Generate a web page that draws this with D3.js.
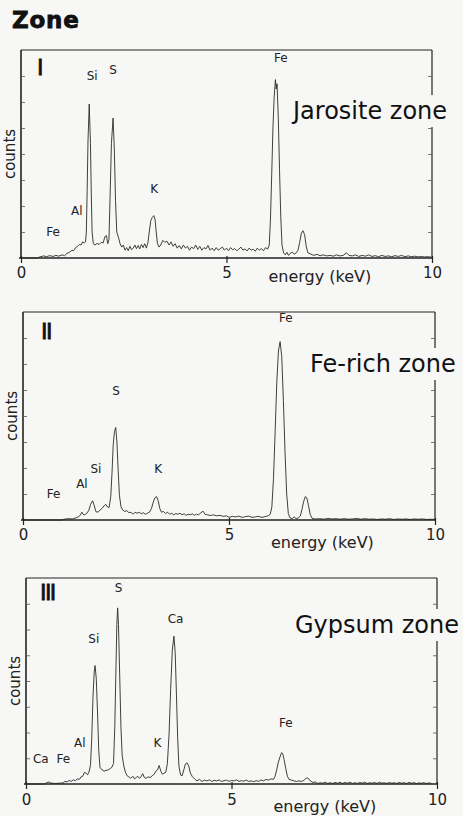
<!DOCTYPE html>
<html>
<head>
<meta charset="utf-8">
<script src="https://cdn.jsdelivr.net/npm/d3@7/dist/d3.min.js"></script>
<style>
body { margin: 0; background: #f7f7f5; }
svg { display: block; font-family: "DejaVu Sans", sans-serif; }
</style>
</head>
<body>
<svg id="chart" width="463" height="816"></svg>
<script>
// zone I - jarosite
var energyI = [0,0.40,0.45,0.55,0.62,0.70,0.78,0.85,0.92,1.00,1.06,1.12,1.18,1.24,1.28,1.33,1.38,1.42,1.46,1.50,1.54,1.57,1.59,1.61,1.63,1.66,1.69,1.71,1.73,1.76,1.80,1.85,1.90,1.95,2.00,2.04,2.08,2.11,2.14,2.17,2.20,2.24,2.27,2.30,2.33,2.37,2.41,2.45,2.49,2.53,2.57,2.61,2.65,2.69,2.73,2.77,2.81,2.85,2.89,2.93,2.97,3.01,3.05,3.09,3.12,3.16,3.19,3.23,3.26,3.29,3.32,3.36,3.40,3.45,3.50,3.55,3.60,3.65,3.70,3.75,3.80,3.85,3.90,3.95,4.00,4.05,4.10,4.15,4.20,4.25,4.30,4.35,4.40,4.45,4.50,4.55,4.60,4.65,4.70,4.75,4.80,4.85,4.90,4.95,5.00,5.05,5.10,5.15,5.20,5.25,5.30,5.35,5.40,5.45,5.50,5.55,5.60,5.65,5.70,5.75,5.80,5.85,5.90,5.95,6.00,6.04,6.07,6.10,6.13,6.16,6.19,6.21,6.23,6.26,6.29,6.32,6.35,6.39,6.43,6.47,6.51,6.55,6.60,6.65,6.70,6.74,6.78,6.82,6.86,6.90,6.94,6.98,7.05,7.12,7.20,7.28,7.36,7.44,7.52,7.60,7.68,7.76,7.84,7.92,7.98,8.06,8.14,8.22,8.30,8.38,8.46,8.54,8.62,8.70,8.78,8.86,8.94,9.02,9.10,9.18,9.26,9.34,9.42,9.50,9.58,9.66,9.74,9.82,9.90,9.98];
var countsI = [0,0,0.04,0.08,0.05,0.09,0.06,0.10,0.07,0.12,0.09,0.18,0.22,0.30,0.28,0.40,0.45,0.52,0.50,0.62,0.58,0.62,1.00,2.60,4.50,5.92,4.40,2.50,1.00,0.55,0.50,0.56,0.52,0.60,0.58,0.82,0.86,0.55,0.70,2.50,4.40,5.38,4.20,2.20,1.00,0.80,0.55,0.42,0.50,0.30,0.40,0.28,0.45,0.32,0.38,0.50,0.36,0.48,0.35,0.52,0.40,0.55,0.38,0.60,1.00,1.45,1.55,1.63,1.50,1.00,0.55,0.42,0.50,0.68,0.60,0.65,0.50,0.62,0.45,0.55,0.38,0.48,0.35,0.50,0.38,0.45,0.30,0.42,0.36,0.50,0.33,0.45,0.30,0.40,0.35,0.48,0.30,0.38,0.28,0.40,0.30,0.36,0.42,0.30,0.38,0.28,0.40,0.32,0.36,0.28,0.34,0.42,0.30,0.35,0.27,0.38,0.30,0.34,0.26,0.38,0.30,0.36,0.28,0.40,0.34,0.50,1.50,3.20,5.00,6.20,6.86,6.50,6.70,5.40,3.40,1.60,0.50,0.20,0.12,0.22,0.10,0.18,0.22,0.15,0.20,0.30,0.60,0.95,1.05,0.90,0.45,0.20,0.15,0.10,0.14,0.09,0.12,0.08,0.10,0.07,0.12,0.08,0.10,0.20,0.10,0.08,0.12,0.06,0.10,0.07,0.12,0.06,0.09,0.05,0.10,0.06,0.08,0.05,0.09,0.06,0.10,0.05,0.08,0.05,0.07,0.04,0.06,0.04,0.05,0.03];
var elementsI = ["Fe", "Al", "Si", "S", "K", "Fe"];
var labelEnergyI = [0.78, 1.36, 1.73, 2.24, 3.24, 6.32];
var labelCountsI = [0.85, 1.65, 6.85, 7.08, 2.5, 7.54];

// zone II - Fe-rich
var energyII = [0,0.95,1.00,1.10,1.20,1.28,1.34,1.39,1.43,1.46,1.50,1.55,1.60,1.64,1.69,1.73,1.77,1.82,1.87,1.92,1.97,2.01,2.05,2.09,2.13,2.16,2.19,2.22,2.25,2.28,2.31,2.34,2.38,2.42,2.47,2.52,2.57,2.62,2.67,2.72,2.77,2.82,2.87,2.92,2.97,3.02,3.07,3.12,3.16,3.20,3.24,3.28,3.32,3.36,3.41,3.46,3.51,3.56,3.61,3.66,3.71,3.76,3.81,3.86,3.91,3.96,4.01,4.06,4.11,4.16,4.21,4.26,4.32,4.37,4.42,4.48,4.55,4.62,4.70,4.78,4.86,4.94,5.00,5.08,5.16,5.24,5.32,5.40,5.48,5.56,5.64,5.72,5.80,5.88,5.95,6.00,6.04,6.08,6.12,6.16,6.20,6.24,6.28,6.32,6.36,6.40,6.44,6.48,6.54,6.58,6.63,6.68,6.73,6.77,6.81,6.85,6.89,6.93,6.97,7.02,7.10,7.20,7.30,7.40,7.50,7.60,7.70,7.80,7.90,8.00,8.10,8.20,8.30,8.40,8.50,8.60,8.70,8.80,8.90,9.00,9.10,9.20,9.30,9.40,9.50,9.60,9.70,9.80,9.90,10.0];
var countsII = [0,0,0.03,0.05,0.04,0.08,0.12,0.18,0.30,0.22,0.20,0.26,0.38,0.60,0.74,0.55,0.32,0.30,0.38,0.45,0.55,0.60,0.50,0.48,0.90,1.80,2.90,3.40,3.56,3.00,1.90,0.95,0.50,0.38,0.33,0.36,0.28,0.30,0.22,0.30,0.26,0.30,0.24,0.28,0.22,0.26,0.30,0.45,0.68,0.85,0.90,0.75,0.45,0.30,0.33,0.25,0.30,0.22,0.26,0.20,0.25,0.22,0.26,0.20,0.24,0.18,0.22,0.20,0.24,0.18,0.22,0.20,0.28,0.34,0.22,0.20,0.17,0.20,0.16,0.18,0.14,0.16,0.10,0.14,0.12,0.15,0.10,0.13,0.15,0.10,0.12,0.14,0.10,0.13,0.16,0.22,0.50,1.60,3.40,5.30,6.50,6.86,6.30,4.60,2.60,1.00,0.25,0.08,0.05,0.12,0.05,0.08,0.15,0.40,0.70,0.90,0.85,0.55,0.22,0.06,0.04,0.05,0.03,0.06,0.04,0.05,0.03,0.05,0.03,0.04,0.06,0.03,0.05,0.03,0.04,0.02,0.04,0.03,0.05,0.02,0.04,0.03,0.04,0.02,0.04,0.03,0.04,0.02,0.03,0.02];
var elementsII = ["Fe", "Al", "Si", "S", "K", "Fe"];
var labelEnergyII = [0.74, 1.43, 1.77, 2.26, 3.28, 6.38];
var labelCountsII = [0.85, 1.23, 1.82, 4.81, 1.82, 7.62];

// zone III - gypsum
var energyIII = [0,0.45,0.50,0.55,0.60,0.70,0.80,0.90,0.95,1.00,1.05,1.10,1.15,1.20,1.25,1.30,1.34,1.38,1.42,1.46,1.50,1.54,1.57,1.60,1.63,1.66,1.68,1.71,1.74,1.77,1.80,1.85,1.90,1.95,2.00,2.05,2.09,2.13,2.16,2.19,2.21,2.23,2.25,2.28,2.31,2.34,2.38,2.42,2.46,2.50,2.55,2.60,2.64,2.68,2.72,2.76,2.80,2.84,2.88,2.92,2.97,3.02,3.07,3.12,3.16,3.20,3.24,3.28,3.32,3.36,3.40,3.44,3.48,3.52,3.56,3.60,3.63,3.66,3.69,3.72,3.76,3.80,3.84,3.88,3.92,3.96,4.00,4.05,4.10,4.16,4.22,4.28,4.34,4.40,4.46,4.52,4.58,4.64,4.70,4.76,4.82,4.88,4.94,5.00,5.06,5.12,5.18,5.24,5.30,5.36,5.42,5.48,5.54,5.60,5.66,5.72,5.78,5.84,5.90,5.96,6.02,6.06,6.10,6.14,6.18,6.22,6.25,6.28,6.32,6.36,6.40,6.46,6.52,6.58,6.64,6.70,6.76,6.80,6.84,6.88,6.92,6.98,7.04,7.10,7.16,7.22,7.28,7.34,7.40,7.46,7.52,7.58,7.64,7.70,7.76,7.82,7.88,7.94,8.00,8.06,8.12,8.18,8.24,8.30,8.36,8.42,8.48,8.54,8.60,8.66,8.72,8.78,8.84,8.90,8.96,9.02,9.08,9.14,9.20,9.26,9.32,9.38,9.44,9.50,9.56,9.62,9.68,9.74,9.80,9.86,9.92,9.98];
var countsIII = [0,0,0.05,0.08,0.04,0.02,0.03,0.04,0.10,0.08,0.14,0.10,0.16,0.13,0.20,0.18,0.28,0.30,0.45,0.42,0.36,0.50,0.75,1.80,3.40,4.35,4.60,4.10,2.80,1.30,0.65,0.55,0.50,0.53,0.55,0.60,0.65,0.80,2.20,4.60,6.20,6.84,6.20,4.20,2.20,1.10,0.70,0.45,0.32,0.28,0.22,0.30,0.20,0.25,0.30,0.22,0.28,0.40,0.25,0.22,0.28,0.25,0.32,0.38,0.50,0.55,0.72,0.50,0.38,0.42,0.45,0.80,1.90,3.70,5.20,5.74,5.10,3.50,1.80,0.70,0.35,0.32,0.55,0.78,0.82,0.70,0.42,0.28,0.20,0.12,0.18,0.10,0.15,0.12,0.16,0.10,0.14,0.12,0.16,0.10,0.13,0.15,0.10,0.14,0.12,0.16,0.10,0.13,0.11,0.15,0.10,0.12,0.09,0.13,0.10,0.16,0.12,0.18,0.15,0.20,0.18,0.30,0.55,0.85,1.05,1.22,1.15,0.95,0.60,0.30,0.18,0.15,0.12,0.10,0.12,0.10,0.14,0.20,0.24,0.20,0.12,0.06,0.08,0.02,0.05,0.03,0.07,0.02,0.05,0.02,0.06,0.03,0.07,0.02,0.06,0.03,0.07,0.02,0.05,0.02,0.06,0.03,0.07,0.02,0.05,0.03,0.06,0.02,0.07,0.03,0.05,0.02,0.06,0.03,0.05,0.02,0.06,0.03,0.05,0.02,0.06,0.03,0.05,0.02,0.04,0.03,0.05,0.02,0.04,0.03];
var elementsIII = ["Ca", "Fe", "Al", "Si", "S", "K", "Ca", "Fe"];
var labelEnergyIII = [0.36, 0.91, 1.31, 1.65, 2.25, 3.20, 3.64, 6.32];
var labelCountsIII = [0.82, 0.82, 1.45, 5.48, 7.45, 1.45, 6.25, 2.23];

var energyTicks = [0, 5, 10];
var countTicks = [1, 2, 3, 4, 5, 6, 7];
var zoneNames = ["Jarosite zone", "Fe-rich zone", "Gypsum zone"];
var romans = ["I", "II", "III"];

var bg = "#f7f7f5";
var ink = "#222";

var svg = d3.select("#chart");
svg.append("rect").attr("width", 463).attr("height", 816).attr("fill", bg);

svg.append("text")
	.attr("x", 12).attr("y", 28)
	.attr("font-size", 23).attr("font-weight", 900)
	.attr("letter-spacing", 0.8)
	.attr("stroke", "#111").attr("stroke-width", 0.8)
	.attr("fill", "#111")
	.text("Zone");

// frame boxes
var panels = [
	{left: 21, right: 432, top: 50, bottom: 258, energy: energyI, counts: countsI,
	 el: elementsI, le: labelEnergyI, lc: labelCountsI,
	 zoneX: 293, zoneY: 119, romanX: 37, romanY: 75, tickDy: 20, axisDy: 24},
	{left: 23, right: 435, top: 312, bottom: 520, energy: energyII, counts: countsII,
	 el: elementsII, le: labelEnergyII, lc: labelCountsII,
	 zoneX: 310, zoneY: 372, romanX: 41, romanY: 339, tickDy: 20, axisDy: 28},
	{left: 26, right: 437, top: 578, bottom: 784, energy: energyIII, counts: countsIII,
	 el: elementsIII, le: labelEnergyIII, lc: labelCountsIII,
	 zoneX: 295, zoneY: 633, romanX: 40, romanY: 600, tickDy: 21, axisDy: 28}
];

function drawPanel(p, i) {
	var x = d3.scaleLinear().domain([0, 10]).range([p.left, p.right]);
	var y = d3.scaleLinear().domain([0, 8]).range([p.bottom, p.top]);
	var g = svg.append("g");

	// frame: thin top/right, heavier left/bottom
	g.append("line").attr("x1", p.left).attr("x2", p.right).attr("y1", p.top).attr("y2", p.top)
		.attr("stroke", ink).attr("stroke-width", 1);
	g.append("line").attr("x1", p.right).attr("x2", p.right).attr("y1", p.top).attr("y2", p.bottom)
		.attr("stroke", ink).attr("stroke-width", 1.2);
	g.append("line").attr("x1", p.left).attr("x2", p.left).attr("y1", p.top).attr("y2", p.bottom)
		.attr("stroke", ink).attr("stroke-width", 1.6);

	var leftAxis = g.append("g").attr("transform", "translate(" + p.left + ",0)")
		.call(d3.axisRight(y).tickValues(countTicks).tickSize(4).tickFormat(""));
	var rightAxis = g.append("g").attr("transform", "translate(" + p.right + ",0)")
		.call(d3.axisLeft(y).tickValues(countTicks).tickSize(4).tickFormat(""));
	[leftAxis, rightAxis].forEach(function(a) {
		a.select(".domain").remove();
		a.selectAll(".tick line").attr("stroke", "#555").attr("stroke-width", 0.8);
	});

	var line = d3.line().x(function(d) { return x(d[0]); }).y(function(d) { return y(d[1]); });
	g.append("path")
		.datum(d3.zip(p.energy, p.counts))
		.attr("d", line)
		.attr("fill", "none")
		.attr("stroke", "#2a2a2a")
		.attr("stroke-width", 0.9)
		.attr("stroke-linejoin", "round");

	var bottomAxis = g.append("g").attr("transform", "translate(0," + p.bottom + ")")
		.call(d3.axisBottom(x).tickValues(energyTicks).tickSize(4).tickPadding(p.tickDy - 15));
	bottomAxis.select(".domain").attr("stroke", ink).attr("stroke-width", 1.6).attr("d",
		"M" + (p.left - 2) + ",0H" + p.right);
	bottomAxis.selectAll(".tick line").attr("y1", -2).attr("y2", 5).attr("stroke", ink).attr("stroke-width", 1.2);
	bottomAxis.selectAll(".tick text")
		.attr("font-family", "DejaVu Sans").attr("font-size", 15).attr("fill", ink);

	g.append("text")
		.attr("x", x(6.02)).attr("y", p.bottom + p.axisDy)
		.attr("font-size", 16).attr("fill", ink)
		.text("energy (keV)");

	g.append("text")
		.attr("transform", "translate(" + (p.left - 6) + "," + ((p.top + p.bottom) / 2) + ") rotate(-90)")
		.attr("text-anchor", "middle")
		.attr("font-size", 15).attr("fill", ink)
		.text("counts");

	g.selectAll(".el")
		.data(p.el)
		.enter().append("text")
		.attr("x", function(d, k) { return x(p.le[k]); })
		.attr("y", function(d, k) { return y(p.lc[k]); })
		.attr("text-anchor", "middle")
		.attr("font-size", 12).attr("fill", ink)
		.text(function(d) { return d; });

	g.append("text")
		.attr("x", p.romanX).attr("y", p.romanY)
		.attr("font-size", 22)
		.attr("letter-spacing", -1.6)
		.attr("stroke", "#111").attr("stroke-width", 0.8)
		.attr("fill", "#111")
		.text(romans[i]);

	// zone name sits on a patch of paper that breaks the right frame line
	var zone = g.append("text")
		.attr("x", p.zoneX).attr("y", p.zoneY)
		.attr("font-size", 24).attr("fill", "#111")
		.text(zoneNames[i]);
	var bb = zone.node().getBBox();
	g.insert("rect", function() { return zone.node(); })
		.attr("x", bb.x - 3).attr("y", bb.y - 2)
		.attr("width", bb.width + 6).attr("height", bb.height + 4)
		.attr("fill", bg);
}

panels.forEach(drawPanel);
</script>
</body>
</html>
